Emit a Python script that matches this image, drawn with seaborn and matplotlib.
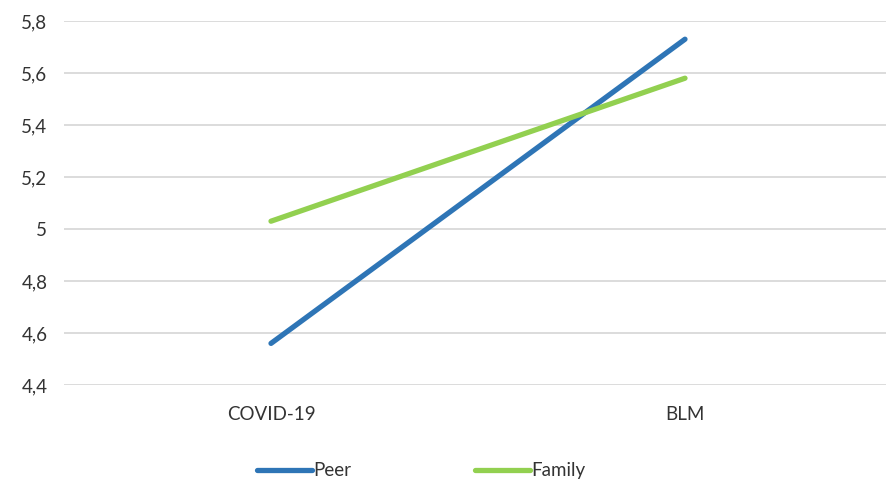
import pandas as pd
import seaborn as sns
import matplotlib.pyplot as plt

sns.set_theme(style="white")
plt.rcParams['font.family'] = ['Lato', 'DejaVu Sans']

# data
events = ["COVID-19", "BLM"]
peer = [4.56, 5.73]
family = [5.03, 5.58]

df = pd.DataFrame({
    "event": events * 2,
    "score": peer + family,
    "group": ["Peer"] * 2 + ["Family"] * 2,
})

fig = plt.figure(figsize=(8.87, 4.83), dpi=100)
ax = fig.add_axes([64 / 887, 0.2029, 828 / 887, 0.7536])

sns.lineplot(data=df, x="event", y="score", hue="group",
             palette={"Peer": "#2E75B6", "Family": "#92D050"},
             linewidth=3.8, ax=ax, legend=False, solid_capstyle="round")

ax.set_xlim(-0.5, 1.5)
ax.set_ylim(4.4, 5.8)
ticks = [4.4, 4.6, 4.8, 5.0, 5.2, 5.4, 5.6, 5.8]
ax.set_yticks(ticks)
ax.set_yticklabels([f"{t:g}".replace(".", ",") for t in ticks])
ax.yaxis.grid(True, color="#D9D9D9", linewidth=1.3)
ax.set_axisbelow(True)
for s in ax.spines.values():
    s.set_visible(False)
ax.tick_params(axis="both", length=0, labelsize=13.5, colors="#333333")
ax.tick_params(axis="y", pad=12)
ax.tick_params(axis="x", pad=15)
ax.set_xlabel("")
ax.set_ylabel("")

handles = [plt.Line2D([], [], color="#2E75B6", linewidth=3.8, solid_capstyle="round"),
           plt.Line2D([], [], color="#92D050", linewidth=3.8, solid_capstyle="round")]
fig.legend(handles, ["Peer", "Family"], loc="center", bbox_to_anchor=(0.475, 0.025),
           ncol=2, frameon=False, fontsize=13.5, handlelength=2.9, handletextpad=0.1,
           columnspacing=6.6, labelcolor="#333333")

fig.savefig("out.png", dpi=100)
